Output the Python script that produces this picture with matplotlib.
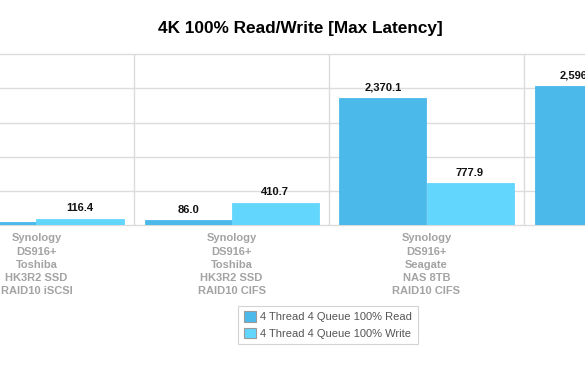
import numpy as np
import matplotlib
matplotlib.use("Agg")
import matplotlib.pyplot as plt
from matplotlib.patches import Patch

plt.rcParams['font.family'] = ['Liberation Sans', 'DejaVu Sans']

#### datos
categorias = [
    "Synology\nDS916+\nToshiba\nHK3R2 SSD\nRAID10 iSCSI",
    "Synology\nDS916+\nToshiba\nHK3R2 SSD\nRAID10 CIFS",
    "Synology\nDS916+\nSeagate\nNAS 8TB\nRAID10 CIFS",
    "Synology\nDS916+\nSeagate\nNAS 8TB\nRAID10 iSCSI",
]
lectura = [63.0, 86.0, 2370.1, 2596.2]
escritura = [116.4, 410.7, 777.9, 812.5]
series = ["4 Thread 4 Queue 100% Read", "4 Thread 4 Queue 100% Write"]

c_lect = "#4cb9eb"
c_escr = "#62d6fd"
c_grid = "#dcdcdc"

W, H = 585, 378
fig = plt.figure(figsize=(W/100, H/100), dpi=100)

# el grafico original es mas ancho, aca se ve recortado
paso = 195.0           # px por categoria
x0 = 36.5              # centro de la primera categoria en px
xmin = -x0/paso
xmax = W/paso + xmin
base, tope = 225.0, 54.3

ax = fig.add_axes([0, (H-base)/H, 1, (base-tope)/H])
ax.set_xlim(xmin, xmax)
ymax = 3185
ax.set_ylim(0, ymax)

x = np.arange(len(categorias))
ancho = 87/paso

for yy in np.linspace(0, ymax, 6):
    ax.axhline(yy, color=c_grid, lw=1, zorder=0, clip_on=False)
for xs in x[:-1] + 0.5:
    ax.plot([xs, xs], [0, ymax], color=c_grid, lw=1, zorder=0)

b1 = ax.bar(x - ancho/2, lectura, ancho, color=c_lect, edgecolor=c_lect,
            lw=0.6, zorder=2)
b2 = ax.bar(x + ancho/2, escritura, ancho, color=c_escr, edgecolor=c_escr,
            lw=0.6, zorder=2)

for barras in (b1, b2):
    for b in barras:
        v = b.get_height()
        ax.annotate(f"{v:,.1f}", (b.get_x() + b.get_width()/2, v),
                    xytext=(0, 4), textcoords="offset points",
                    ha="center", va="bottom", fontsize=8,
                    fontweight="bold", color="#111111")

for xi, txt in zip(x, categorias):
    ax.annotate(txt, (xi, 0), xytext=(0, -6), textcoords="offset points",
                ha="center", va="top", fontsize=8, fontweight="bold",
                color="#a3a3a3", linespacing=1.4, annotation_clip=False)

ax.set_xticks([])
ax.set_yticks([])
for s in ax.spines.values():
    s.set_visible(False)

fig.text(300/W, 1 - 28/H, "4K 100% Read/Write [Max Latency]",
         ha="center", va="center", fontsize=12.4, fontweight="bold")

handles = [Patch(facecolor=c_lect, edgecolor="#9a9a9a", lw=0.8),
           Patch(facecolor=c_escr, edgecolor="#9a9a9a", lw=0.8)]
leg = fig.legend(handles, series, loc="center",
                 bbox_to_anchor=(328/W, 1 - 325/H), fontsize=8,
                 handlelength=1.1, handleheight=1.1, handletextpad=0.4,
                 labelspacing=0.45, borderpad=0.5, frameon=True,
                 fancybox=False, labelcolor="#555555")
leg.get_frame().set_edgecolor("#c8c8c8")
leg.get_frame().set_linewidth(0.8)

fig.savefig("out.png", dpi=100)
